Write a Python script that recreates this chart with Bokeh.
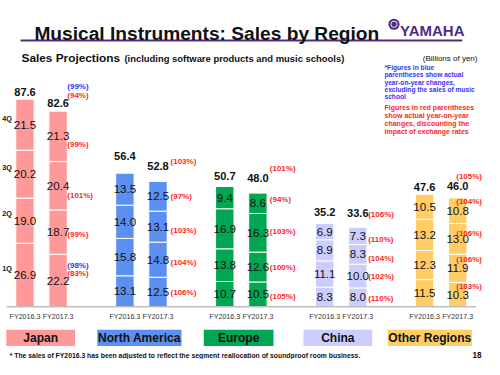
from bokeh.plotting import figure
from bokeh.models import Range1d, Label, ColumnDataSource
from bokeh.core.properties import value
from bokeh.embed import file_html
from bokeh.resources import INLINE

# ---------------- data ----------------
regions = ["Japan", "North America", "Europe", "China", "Other Regions"]
years = ["FY2016.3", "FY2017.3"]
quarters = ["1Q", "2Q", "3Q", "4Q"]

q1_fy16 = [26.9, 13.1, 10.7, 8.3, 11.5]
q2_fy16 = [19.0, 15.8, 13.8, 11.1, 12.3]
q3_fy16 = [20.2, 14.0, 16.9, 8.9, 13.2]
q4_fy16 = [21.5, 13.5, 9.4, 6.9, 10.5]
q1_fy17 = [22.2, 12.5, 10.5, 8.0, 10.3]
q2_fy17 = [18.7, 14.8, 12.6, 10.0, 11.9]
q3_fy17 = [20.4, 13.1, 16.3, 8.3, 13.0]
q4_fy17 = [21.3, 12.5, 8.6, 7.3, 10.8]
total_fy16 = ["87.6", "56.4", "50.7", "35.2", "47.6"]
total_fy17 = ["82.6", "52.8", "48.0", "33.6", "46.0"]

# year-on-year changes excluding FX (red), FY2017.3
red_q1 = [83, 106, 105, 110, 103]
red_q2 = [99, 104, 100, 102, 106]
red_q3 = [101, 103, 103, 104, 106]
red_q4 = [99, 97, 94, 110, 104]
red_total = [94, 103, 101, 106, 105]
# changes excluding music schools (blue), Japan only
blue_q1_japan = 98
blue_total_japan = 99

# ---------------- style / layout ----------------
bar_colors = ["#FF9999", "#5B8FF0", "#00A651", "#CCCCFF", "#FFCC66"]
RED = "#FF1F1F"
BLUE = "#3333FF"
PURPLE = "#4E2A84"
FONT = value("Liberation Sans")

W, H = 484, 359
SX, SY = W / 500, H / 375
FS = 0.963

C0, GS = 42.4, 103.2        # group centre / spacing (ref px)
HALF = 17.1 / GS            # pair offset in group units
BW = 19.0 / GS              # bar width in group units
BASE, PPU = 320.0, 2.475    # baseline (ref px) and px per unit

pct_dx = [9.5, 13.0, 12.3, 10.7, -1.5]
pct_dy_q = [[-7, 2, 10, 8], [1, 3, 4, 0], [2, 1, -1, -3.5], [1.5, 0, 4, 4], [-8, -9, -6, -10]]
pct_dy_total = [-16.6, -21, -26, -13.5, -22]
blue_dy_q1, blue_dy_total = -16, -25.6
tot_dy_fy16 = [-7.4, -18, -11, -12, -8]
tot_dy_fy17 = [-9, -16, -16, -15, -12]


def fpx(s):
    return value(f"{s * FS:.2f}px")


def dv(dy):
    return -dy / PPU


p = figure(width=W, height=H, x_range=Range1d(0, 500), y_range=Range1d(375, 0),
           output_backend="svg", toolbar_location=None, min_border=0,
           x_axis_location=None, y_axis_location=None, outline_line_color=None)
p.grid.visible = False
p.extra_x_ranges = {"grp": Range1d((0 - C0) / GS, (500 - C0) / GS)}
p.extra_y_ranges = {"val": Range1d((BASE - 375) / PPU, BASE / PPU)}

# ---------------- bars ----------------
fy16 = [q1_fy16, q2_fy16, q3_fy16, q4_fy16]
fy17 = [q1_fy17, q2_fy17, q3_fy17, q4_fy17]
bx, bb, bt, bc, lbl, ly = [], [], [], [], [], []
tops = {}
for i in range(len(regions)):
    for j, qs in enumerate([fy16, fy17]):
        xc = i + (-HALF if j == 0 else HALF)
        cum = 0.0
        for k in range(4):
            v = qs[k][i]
            bx.append(xc); bb.append(cum); bt.append(cum + v); bc.append(bar_colors[i])
            lbl.append(f"{v:.1f}"); ly.append(cum + v / 2)
            cum += v
        tops[(i, j)] = cum

src = ColumnDataSource(dict(x=bx, bottom=bb, top=bt, color=bc, label=lbl, ly=ly))
p.vbar(x="x", width=BW, bottom="bottom", top="top", fill_color="color", line_color="white",
       line_width=1, source=src, x_range_name="grp", y_range_name="val")
p.text(x="x", y="ly", text="label", source=src, x_range_name="grp", y_range_name="val",
       text_align="center", text_baseline="middle", text_font=FONT, text_font_size=fpx(12),
       text_color="#111111")

# baseline
p.segment(x0=[-0.35], y0=[0], x1=[4.35], y1=[0], line_color="#BFBFBF", line_width=1.5,
          x_range_name="grp", y_range_name="val")

# totals
tx, ty, tt = [], [], []
for i in range(len(regions)):
    tx += [i - HALF, i + HALF]
    ty += [tops[(i, 0)] + dv(tot_dy_fy16[i]), tops[(i, 1)] + dv(tot_dy_fy17[i])]
    tt += [total_fy16[i], total_fy17[i]]
p.text(x=tx, y=ty, text=tt, x_range_name="grp", y_range_name="val", text_align="center",
       text_baseline="middle", text_font=FONT, text_font_style="bold",
       text_font_size=fpx(11.5), text_color="#111111")

# FY labels
fx, fy, ft = [], [], []
for i in range(len(regions)):
    fx += [i - HALF, i + HALF]
    fy += [dv(331 - BASE)] * 2
    ft += years
p.text(x=fx, y=fy, text=ft, x_range_name="grp", y_range_name="val", text_align="center",
       text_baseline="middle", text_font=FONT, text_font_size=fpx(7.4), text_color="#333333")

# quarter labels beside Japan FY2016.3
qy, cum = [], 0.0
for k in range(4):
    v = fy16[k][0]
    qy.append(cum + v / 2 + dv(-7))
    cum += v
p.text(x=[-HALF - 23.5 / GS] * 4, y=qy, text=quarters, x_range_name="grp", y_range_name="val",
       text_align="left", text_baseline="middle", text_font=FONT, text_font_style="bold",
       text_font_size=fpx(7.5), text_color="#111111")

# percentage annotations
reds = [red_q1, red_q2, red_q3, red_q4]
px_, py_, pt_, pc_ = [], [], [], []
for i in range(len(regions)):
    xl = i + HALF + pct_dx[i] / GS
    cum = 0.0
    for k in range(4):
        v = fy17[k][i]
        px_.append(xl); py_.append(cum + v / 2 + dv(pct_dy_q[i][k]))
        pt_.append(f"({reds[k][i]}%)"); pc_.append(RED)
        cum += v
    px_.append(xl); py_.append(tops[(i, 1)] + dv(pct_dy_total[i]))
    pt_.append(f"({red_total[i]}%)"); pc_.append(RED)
# blue (Japan)
xl = 0 + HALF + pct_dx[0] / GS
px_ += [xl, xl]
py_ += [q1_fy17[0] / 2 + dv(blue_dy_q1), tops[(0, 1)] + dv(blue_dy_total)]
pt_ += [f"({blue_q1_japan}%)", f"({blue_total_japan}%)"]
pc_ += [BLUE, BLUE]
p.text(x=px_, y=py_, text=pt_, text_color=pc_, x_range_name="grp", y_range_name="val",
       text_align="left", text_baseline="middle", text_font=FONT, text_font_style="bold",
       text_font_size=fpx(8.3))

# ---------------- legend boxes ----------------
leg_x0 = [6, 100, 210, 313, 400]
leg_x1 = [77, 187, 282, 384, 487]
p.quad(left=leg_x0, right=leg_x1, top=[344] * 5, bottom=[361] * 5, fill_color=bar_colors,
       line_color=None)
p.text(x=[(a + b) / 2 for a, b in zip(leg_x0, leg_x1)], y=[352.5] * 5, text=regions,
       text_align="center", text_baseline="middle", text_font=FONT, text_font_style="bold",
       text_font_size=fpx(12.5), text_color="#111111")

# ---------------- header ----------------
def lab(x, y, t, size, color="#111111", bold=True, align="left", baseline="alphabetic"):
    p.add_layout(Label(x=x, y=y, text=t, text_font="Liberation Sans",
                       text_font_style="bold" if bold else "normal",
                       text_font_size=f"{size * FS:.2f}px", text_color=color,
                       text_align=align, text_baseline=baseline))

lab(35, 34.3, "Musical Instruments: Sales by Region", 19.9)
p.segment(x0=[20.7], y0=[41.7], x1=[477], y1=[41.7], line_color=PURPLE, line_width=2)

# Yamaha logo
p.scatter(x=[406.5], y=[24.8], size=11.5 * SX, marker="circle", fill_color=PURPLE, line_color=None)
p.scatter(x=[406.5], y=[24.8], size=6.5 * SX, marker="circle", fill_color=None,
          line_color="white", line_width=0.9)
lab(412.7, 31, "YAMAHA", 15.6, color=PURPLE)

lab(21.7, 60.3, "Sales Projections", 12.3)
lab(128, 60.3, "(including software products and music schools)", 9.8)
lab(492.7, 60.3, "(Billions of yen)", 8.3, bold=False, align="right")

blue_note = ["*Figures in blue", "parentheses show actual", "year-on-year changes,",
             "excluding the sales of music", "school"]
red_note = ["Figures in red parentheses", "show actual year-on-year",
            "changes, discounting the", "impact of exchange rates"]
for t, y in zip(blue_note, [70, 77.7, 85.4, 93.1, 100.8]):
    lab(396.7, y, t, 6.9, color=BLUE, baseline="middle")
for t, y in zip(red_note, [111.7, 120, 128.3, 136.6]):
    lab(396.7, y, t, 7.3, color=RED, baseline="middle")

# footer
lab(9.5, 370.5, "*  The sales of FY2016.3  has been adjusted to reflect the segment reallocation of soundproof  room  business.",
    7.1, baseline="middle")
lab(497, 370.5, "18", 8.5, align="right", baseline="middle")

open("out.html", "w").write(file_html(p, INLINE))
